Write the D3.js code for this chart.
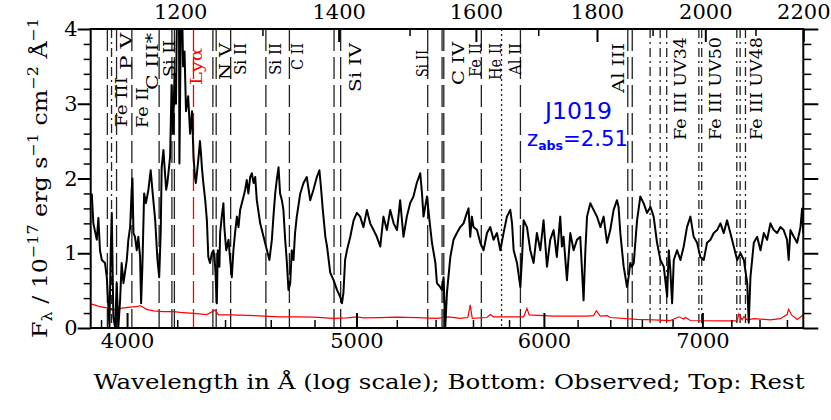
<!DOCTYPE html>
<html>
<head>
<meta charset="utf-8">
<script src="https://cdn.jsdelivr.net/npm/d3@7"></script>
<style>
body { margin: 0; background: #fff; }
svg { display: block; }
</style>
</head>
<body>
<svg id="chart" width="831" height="420"></svg>
<script>
// absorber redshift, top axis is rest frame of it
var zAbs = 2.51;

// observed wavelength (A) and flux (1e-17 erg/s/cm2/A)
var obsWave = [3865,3871,3884,3890,3896,3903,3915,3922,3928,3932,3937,3941,3947,3954,3960,3966,3973,3979,3986,3999,
  4005,4012,4018,4021,4025,4031,4038,4044,4051,4055,4060,4067,4074,4084,4093,4101,4111,4120,4127,4133,
  4137,4144,4155,4160,4171,4177,4183,4189,4195,4199,4207,4209,4214,4220,4224,4230,4236,4245,4253,4261,
  4267,4273,4277,4287,4294,4299,4302,4308,4316,4323,4329,4336,4344,4351,4358,4365,4369,4376,4379,4386,
  4393,4397,4405,4415,4422,4429,4436,4443,4451,4458,4465,4480,4487,4494,4501,4509,4516,4524,4531,4538,
  4553,4568,4583,4594,4605,4612,4620,4627,4635,4642,4650,4657,4665,4672,4680,4688,4695,4703,4710,4718,
  4734,4749,4764,4780,4795,4811,4823,4830,4839,4851,4859,4874,4890,4906,4921,4930,4937,4945,4954,4970,
  4986,5002,5018,5034,5051,5067,5084,5100,5117,5133,5150,5167,5184,5201,5217,5234,5251,5268,5285,5302,
  5320,5329,5337,5355,5368,5381,5399,5407,5424,5433,5442,5451,5460,5478,5495,5513,5531,5549,5567,5576,
  5585,5594,5603,5622,5640,5658,5677,5695,5713,5732,5751,5769,5788,5807,5817,5826,5845,5864,5874,5883,
  5902,5921,5940,5959,5979,5998,6018,6037,6057,6076,6096,6106,6116,6136,6156,6176,6196,6216,6236,6247,
  6257,6277,6297,6318,6339,6359,6380,6400,6421,6442,6452,6463,6484,6495,6505,6515,6526,6537,6548,6569,
  6590,6611,6633,6655,6676,6698,6720,6742,6764,6775,6785,6797,6808,6830,6852,6874,6896,6919,6941,6964,
  6986,7009,7032,7055,7078,7101,7124,7147,7170,7193,7217,7241,7264,7288,7312,7323,7335,7359,7383,7407,
  7431,7455,7479,7503,7528,7552,7576,7601,7613,7626,7651,7676,7701,7713,7722];
var flux = [1.80,1.40,1.18,1.47,1.04,0.91,0.87,0.68,0.28,0.02,1.04,1.54,0.15,0.00,0.60,0.00,0.37,0.87,0.60,0.91,
  1.18,1.35,1.85,2.00,1.27,1.22,1.04,1.22,0.95,0.33,0.82,1.80,1.67,1.85,2.11,1.80,1.44,0.91,0.68,1.27,
  2.15,2.38,1.85,1.94,2.29,3.25,2.60,3.40,3.00,4.30,4.50,2.20,3.80,4.30,3.50,3.70,2.90,3.10,2.60,2.90,
  2.30,2.02,1.94,2.25,2.50,2.30,2.15,1.94,1.71,1.44,0.95,0.87,1.00,1.04,0.82,0.33,1.04,0.82,1.27,1.49,
  1.67,1.35,1.04,1.18,0.91,0.68,1.04,1.27,1.49,1.35,1.58,1.76,1.85,1.98,1.80,2.02,2.07,1.94,2.02,1.71,
  1.40,1.22,1.04,0.91,1.18,1.49,1.80,1.98,2.15,1.80,1.71,1.58,1.18,0.91,0.51,0.60,1.04,0.91,1.27,1.49,
  1.80,1.94,2.02,1.71,1.85,2.02,2.11,1.89,1.58,1.22,1.09,0.74,0.64,0.51,0.42,0.33,0.47,0.91,1.04,1.22,
  1.44,1.54,1.49,1.35,1.58,1.40,1.31,1.22,1.09,1.49,1.31,1.58,1.40,1.31,1.71,1.22,1.49,1.67,1.76,1.94,
  2.07,1.80,1.49,1.76,1.44,1.14,0.87,0.60,0.55,0.51,0.68,0.01,0.47,0.95,1.18,1.27,1.35,1.40,1.54,1.60,
  1.22,1.49,1.35,1.31,1.14,1.04,1.27,1.35,1.18,1.27,1.04,1.27,1.49,1.58,1.40,1.04,0.87,0.55,0.95,1.44,
  1.35,1.04,0.87,1.27,1.04,1.44,0.82,1.18,1.31,0.95,1.49,1.09,1.22,0.64,1.27,1.04,1.18,1.22,0.37,1.04,
  1.49,1.67,1.58,1.49,1.35,1.49,1.14,1.31,1.58,1.71,1.62,1.27,0.82,0.68,0.55,0.68,0.87,0.82,0.87,1.44,
  1.76,1.67,1.54,1.62,1.49,1.14,0.91,0.82,0.42,1.04,0.78,0.33,0.91,1.04,0.91,1.09,1.35,1.49,1.22,1.14,
  0.95,0.91,1.14,1.18,1.27,1.31,1.40,1.27,1.44,1.27,1.09,0.91,1.00,0.91,0.60,0.07,0.68,1.14,1.22,1.04,
  1.27,1.18,1.40,1.31,1.27,1.35,1.31,1.18,0.91,1.31,1.22,1.14,1.35,1.60,1.27];

// 1-sigma error spectrum
var errWave = [3865,3884,3896,3922,3941,3960,3986,4012,4038,4051,4077,4104,4144,4185,4212,4266,4323,4358,4372,4422,
  4494,4568,4642,4718,4795,4890,4954,5002,5034,5117,5200,5302,5407,5468,5531,5572,5585,5596,5676,5695,
  5713,5769,5883,5902,5915,6057,6257,6297,6314,6338,6380,6400,6569,6676,6785,6841,6874,6885,6919,7124,
  7241,7253,7276,7288,7312,7359,7479,7552,7601,7613,7634,7676,7722];
var errFlux = [0.32,0.30,0.285,0.27,0.24,0.25,0.27,0.28,0.285,0.30,0.25,0.23,0.22,0.22,0.21,0.195,0.18,0.24,0.175,0.175,
  0.17,0.16,0.15,0.148,0.145,0.13,0.135,0.15,0.135,0.14,0.145,0.14,0.13,0.15,0.13,0.14,0.31,0.13,0.14,0.18,
  0.15,0.15,0.15,0.26,0.175,0.16,0.16,0.165,0.23,0.16,0.165,0.14,0.115,0.11,0.10,0.15,0.12,0.14,0.10,0.095,
  0.095,0.19,0.11,0.15,0.11,0.125,0.11,0.125,0.18,0.25,0.175,0.115,0.175];

// absorption lines: label and rest wavelengths
var lineLabels = ['Fe III','P V','Fe II','C III*','Si II','Ly\u03b1','N V','Si II','Si II','C II',
  'Si IV','Si II','C IV','Fe II','He II','Al II','Al III','Fe III UV34','Fe III UV50','Fe III UV48'];
var lineRest = [[1122.52],[1117.98,1128.01],[1144.94],[1175.71],[1190.42,1193.29],[1215.67],[1238.82,1242.80],[1260.42],[1304.37],[1334.53],
  [1393.76,1402.77],[1526.71],[1548.20,1550.78],[1608.45],[1640.42],[1670.79],[1854.72,1862.79],[1895.46,1914.06,1926.30],[1987.5,1993.0],[2062.21,2068.90,2079.65]];

// axis ticks
var bottomMajor = [4000,5000,6000,7000];
var bottomMinor = [3900,4200,4400,4600,4800,5200,5400,5600,5800,6200,6400,6600,6800,7200,7400,7600];
var topMajor = [1200,1400,1600,1800,2000,2200];
var topMinor = [1300,1500,1700,1900,2100];
var yMajor = [0,1,2,3,4];
var yMinor = [0.2,0.4,0.6,0.8,1.2,1.4,1.6,1.8,2.2,2.4,2.6,2.8,3.2,3.4,3.6,3.8];

// label placement: dx from first line, bottom y, text length
var labelLayout = [
  {dx:15.5,y:127,len:50},{dx:24.2,y:70,len:37},{dx:15.7,y:128,len:41},{dx:-1.5,y:90,len:57},{dx:2.7,y:77,len:37},
  {dx:8.6,y:85,len:37},{dx:18.2,y:80,len:37},{dx:15.4,y:75,len:32},{dx:15.2,y:75,len:32},{dx:13.7,y:70,len:27},
  {dx:27.2,y:92,len:49},{dx:0.6,y:77,len:27},{dx:22,y:85,len:43},{dx:-0.2,y:77,len:34},{dx:-0.4,y:80,len:37},
  {dx:0.7,y:75,len:32},{dx:-3.5,y:93,len:50},{dx:36.2,y:140,len:103},{dx:22.5,y:140,len:103},{dx:25.6,y:140,len:103}
];

var serif = "'DejaVu Serif', serif";
var svg = d3.select('#chart');
var L = 90.7, R = 803.3, T = 29, B = 328;

var x = d3.scaleLog().domain([3861, 7722]).range([L, R]);
var xr = d3.scaleLog().domain([3861 / (1 + zAbs), 7722 / (1 + zAbs)]).range([L, R]);
var y = d3.scaleLinear().domain([0, 4]).range([B, T]);

svg.append('clipPath').attr('id', 'clip')
  .append('rect').attr('x', L).attr('y', T).attr('width', R - L).attr('height', B - T);

// line markers
var marks = svg.append('g');
lineLabels.forEach(function (name, i) {
  var style = 'dash';
  if (name.indexOf('Fe III') === 0) style = 'dashdot';
  if (name === 'He II') style = 'dot';
  var col = name === 'Ly\u03b1' ? '#ff0000' : '#222';
  var dash = {dash: '22,6', dashdot: '9,4,2,4', dot: '2,3'}[style];
  lineRest[i].forEach(function (w) {
    var xx = x(w * (1 + zAbs));
    marks.append('line')
      .attr('x1', xx).attr('x2', xx).attr('y1', T).attr('y2', B)
      .attr('stroke', col).attr('stroke-width', 1.3)
      .attr('stroke-dasharray', dash);
  });
  var lay = labelLayout[i];
  var bx = x(lineRest[i][0] * (1 + zAbs)) + lay.dx;
  marks.append('text')
    .attr('transform', 'translate(' + bx + ',' + lay.y + ') rotate(-90)')
    .attr('font-family', serif).attr('font-size', 17)
    .attr('fill', col === '#222' ? '#000' : col)
    .attr('textLength', lay.len).attr('lengthAdjust', 'spacingAndGlyphs')
    .text(name);
});

// spectra
var specLine = d3.line().x(function (d) { return x(d[0]); }).y(function (d) { return y(d[1]); });
svg.append('path')
  .datum(d3.zip(errWave, errFlux))
  .attr('clip-path', 'url(#clip)')
  .attr('fill', 'none').attr('stroke', '#ff0000').attr('stroke-width', 1.2)
  .attr('d', specLine);
svg.append('path')
  .datum(d3.zip(obsWave, flux))
  .attr('clip-path', 'url(#clip)')
  .attr('fill', 'none').attr('stroke', '#000').attr('stroke-width', 2)
  .attr('stroke-linejoin', 'round')
  .attr('d', specLine);

// axes
function styleAxis(g, w) {
  g.select('.domain').remove();
  g.selectAll('line').attr('stroke', '#000').attr('stroke-width', w);
  g.selectAll('text').attr('font-family', serif).attr('font-size', 21).attr('fill', '#000');
}
svg.append('g').attr('transform', 'translate(0,' + B + ')')
  .call(d3.axisBottom(x).tickValues(bottomMinor).tickSize(-8).tickFormat(''))
  .call(styleAxis, 1.5);
svg.append('g').attr('transform', 'translate(0,' + B + ')')
  .call(d3.axisBottom(x).tickValues(bottomMajor).tickSize(-15).tickPadding(5).tickFormat(d3.format('d')))
  .call(styleAxis, 2);
svg.append('g').attr('transform', 'translate(0,' + T + ')')
  .call(d3.axisTop(xr).tickValues(topMinor).tickSize(-7).tickFormat(''))
  .call(styleAxis, 1.5);
svg.append('g').attr('transform', 'translate(0,' + T + ')')
  .call(d3.axisTop(xr).tickValues(topMajor).tickSize(-13).tickPadding(10).tickFormat(d3.format('d')))
  .call(styleAxis, 2);
svg.append('g').attr('transform', 'translate(' + L + ',0)')
  .call(d3.axisLeft(y).tickValues(yMinor).tickSize(7).tickFormat(''))
  .call(styleAxis, 1.5);
svg.append('g').attr('transform', 'translate(' + L + ',0)')
  .call(d3.axisLeft(y).tickValues(yMajor).tickSize(13).tickPadding(0).tickFormat(d3.format('d')))
  .call(styleAxis, 2);
svg.append('g').attr('transform', 'translate(' + R + ',0)')
  .call(d3.axisRight(y).tickValues(yMinor).tickSize(8).tickFormat(''))
  .call(styleAxis, 1.5);
svg.append('g').attr('transform', 'translate(' + R + ',0)')
  .call(d3.axisRight(y).tickValues(yMajor).tickSize(15).tickFormat(''))
  .call(styleAxis, 2);

svg.append('rect')
  .attr('x', L).attr('y', T).attr('width', R - L).attr('height', B - T)
  .attr('fill', 'none').attr('stroke', '#000').attr('stroke-width', 2);

// axis titles
svg.append('text')
  .attr('x', (L + R) / 2 + 2).attr('y', 389)
  .attr('text-anchor', 'middle')
  .attr('font-family', serif).attr('font-size', 21)
  .attr('textLength', 711).attr('lengthAdjust', 'spacingAndGlyphs')
  .text('Wavelength in \u00c5 (log scale); Bottom: Observed; Top: Rest');

var yt = svg.append('text')
  .attr('transform', 'translate(47,338) rotate(-90)')
  .attr('font-family', serif).attr('font-size', 21)
  .attr('textLength', 320).attr('lengthAdjust', 'spacingAndGlyphs');
yt.append('tspan').text('F');
yt.append('tspan').attr('font-size', 14).attr('dy', 5).text('\u03bb');
yt.append('tspan').attr('dy', -5).text(' / 10');
yt.append('tspan').attr('font-size', 14).attr('dy', -9).text('\u221217');
yt.append('tspan').attr('dy', 9).text(' erg s');
yt.append('tspan').attr('font-size', 14).attr('dy', -9).text('\u22121');
yt.append('tspan').attr('dy', 9).text(' cm');
yt.append('tspan').attr('font-size', 14).attr('dy', -9).text('\u22122');
yt.append('tspan').attr('dy', 9).text(' \u00c5');
yt.append('tspan').attr('font-size', 14).attr('dy', -9).text('\u22121');

// object label
var sans = "'DejaVu Sans', sans-serif";
svg.append('text')
  .attr('x', 545).attr('y', 119)
  .attr('font-family', sans).attr('font-size', 23).attr('fill', '#0000ff')
  .attr('textLength', 67).attr('lengthAdjust', 'spacingAndGlyphs')
  .text('J1019');
var zt = svg.append('text')
  .attr('x', 527).attr('y', 146)
  .attr('font-family', sans).attr('font-size', 22).attr('fill', '#0000ff')
  .attr('textLength', 101).attr('lengthAdjust', 'spacingAndGlyphs');
zt.append('tspan').text('z');
zt.append('tspan').attr('font-size', 13).attr('font-weight', 'bold').attr('dy', 4).text('abs');
zt.append('tspan').attr('dy', -4).text('=' + zAbs.toFixed(2));
</script>
</body>
</html>
